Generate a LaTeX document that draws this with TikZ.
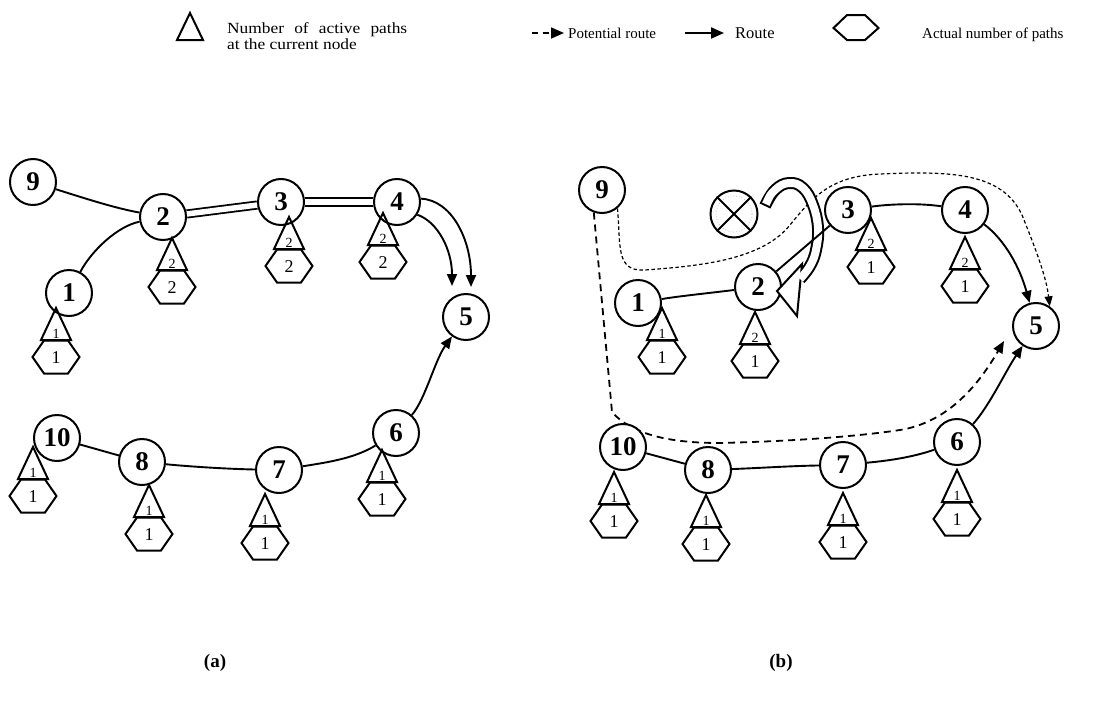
\documentclass[tikz,border=0pt]{standalone}
\usepackage{fontspec}
\setmainfont{Liberation Serif}
\newfontfamily\legendfont[FakeStretch=1.12]{Liberation Serif}
\usetikzlibrary{arrows.meta}
\pgfdeclarelayer{bg}
\pgfsetlayers{bg,main}

\tikzset{
  netnode/.style={circle, draw, line width=2pt, fill=white, minimum size=46pt,
    inner sep=0pt, font=\fontsize{27}{27}\selectfont\bfseries},
  link/.style={line width=1.9pt},
  dbl/.style={line width=1.8pt, double=white, double distance=5.5pt},
  tip/.style={-{Triangle[length=12pt,width=10pt]}},
  route/.style={link, tip},
  finedash/.style={line width=1.2pt, dash pattern=on 3.5pt off 2.5pt,
    -{Triangle[length=10pt,width=8pt]}},
  coarsedash/.style={line width=1.8pt, dash pattern=on 7pt off 5pt, tip},
  stackline/.style={line width=2pt, line join=miter},
  trilabel/.style={inner sep=0pt, font=\fontsize{14}{14}\selectfont},
  hexlabel/.style={inner sep=0pt, font=\fontsize{18}{18}\selectfont},
  legendtext/.style={inner sep=0pt, font=\fontsize{15}{15}\selectfont},
  caption/.style={inner sep=0pt, font=\fontsize{19}{19}\selectfont\bfseries},
}

% triangle (active paths) over hexagon (actual paths), apex at (#2,#3)
\newcommand\pathstack[5]{%
  \draw[stackline] (#2,#3) -- (#2-15,#3+32) -- (#2+15,#3+32) -- cycle;
  \draw[stackline] (#2-23.5,#3+49) -- (#2-12,#3+32.5) -- (#2+12,#3+32.5)
    -- (#2+23.5,#3+49) -- (#2+12,#3+65.5) -- (#2-12,#3+65.5) -- cycle;
  \node[trilabel] (#1t) at (#2,#3+26) {#4};
  \node[hexlabel] (#1h) at (#2,#3+50) {#5};
}

\begin{document}
\begin{tikzpicture}[x=1pt,y=-1pt]
\useasboundingbox (0,0) rectangle (1113,704);

% ---------------- legend ----------------
\draw[stackline] (177,40) -- (190,13) -- (203,40) -- cycle;
\node[legendtext, anchor=base west, font=\fontsize{15.5}{15.5}\legendfont] (lg1) at (227,33)
  {\makebox[180pt][s]{Number of active paths}};
\node[legendtext, anchor=base west, font=\fontsize{15.5}{15.5}\legendfont] (lg2) at (227,49)
  {at the current node};
\coordinate (ld1) at (532,33);
\coordinate (ld2) at (564,33);
\draw[line width=1.6pt, dash pattern=on 6pt off 4.5pt,
  -{Triangle[length=13pt,width=11pt]}] (ld1) -- (ld2);
\node[legendtext, anchor=base west] (lgpot) at (568,38) {Potential route};
\coordinate (lr1) at (685,33);
\coordinate (lr2) at (724,33);
\draw[line width=2pt, -{Triangle[length=13pt,width=11pt]}] (lr1) -- (lr2);
\node[legendtext, anchor=base west, font=\fontsize{16.5}{16.5}\selectfont] (lgroute) at (735,38) {Route};
\draw[stackline] (833.5,28) -- (847,15) -- (865,15) -- (878.5,28) -- (865,40) -- (847,40) -- cycle;
\node[legendtext, anchor=base west] (lgact) at (922,38) {Actual number of paths};

% ---------------- panel (a) ----------------
\node[netnode] (a9) at (33,182) {9};
\node[netnode] (a2) at (163,217) {2};
\node[netnode] (a1) at (69,293) {1};
\node[netnode] (a3) at (281,202) {3};
\node[netnode] (a4) at (397,202) {4};
\node[netnode] (a5) at (466,317) {5};
\node[netnode] (a10) at (57,438) {10};
\node[netnode] (a8) at (142,462) {8};
\node[netnode] (a7) at (279,470) {7};
\node[netnode] (a6) at (396,433) {6};

\coordinate (a5in) at (452,286);
\coordinate (a5out) at (471,287);

\begin{pgfonlayer}{bg}
  \draw[link] (a9) .. controls (90,200) and (115,208) .. (a2);
  \draw[link] (a2) .. controls (118,226) and (92,250) .. (a1);
  \draw[dbl] (a2) -- (a3);
  \draw[dbl] (a3) -- (a4);
  \draw[route] (a4.8) .. controls (452,200) and (471,240) .. (a5out);
  \draw[route] (a4.-32) .. controls (438,222) and (452,250) .. (a5in);
  \draw[route] (a6) .. controls (425,400) and (435,360) .. (a5);
  \draw[link] (a10) -- (a8);
  \draw[link] (a8) .. controls (195,467) and (230,469) .. (a7);
  \draw[link] (a7) .. controls (330,462) and (355,458) .. (a6);
\end{pgfonlayer}

\pathstack{sa1}{56}{308}{1}{1}
\pathstack{sa2}{172}{238}{2}{2}
\pathstack{sa3}{289}{217}{2}{2}
\pathstack{sa4}{383}{213}{2}{2}
\pathstack{sa10}{33}{447}{1}{1}
\pathstack{sa8}{149}{485}{1}{1}
\pathstack{sa7}{265}{494}{1}{1}
\pathstack{sa6}{382}{450}{1}{1}

\node[caption] (capa) at (215,663) {(a)};

% ---------------- panel (b) ----------------
\node[netnode] (b9) at (602,190) {9};
\node[netnode] (b1) at (638,303) {1};
\node[netnode] (b2) at (758,287) {2};
\node[netnode] (b3) at (848,210) {3};
\node[netnode] (b4) at (965,210) {4};
\node[netnode] (b5) at (1036,326) {5};
\node[netnode] (b10) at (623,447) {10};
\node[netnode] (b8) at (708,470) {8};
\node[netnode] (b7) at (843,465) {7};
\node[netnode] (b6) at (957,442) {6};

% failed link marker
\node[circle, draw, line width=2pt, fill=white, minimum size=47pt, inner sep=0pt] (bx) at (734,214) {};
\draw[gray!55, line width=0.7pt, dash pattern=on 0.8pt off 2pt] (bx.center) circle[radius=18pt];
\draw[line width=1.8pt] (bx.45) -- (bx.225);
\draw[line width=1.8pt] (bx.135) -- (bx.-45);

\coordinate (b5c) at (1004,341);

\begin{pgfonlayer}{bg}
  \draw[link] (b1) .. controls (680,296) and (710,293) .. (b2);
  \draw[link] (b3) .. controls (890,204) and (920,203) .. (b4);
  \draw[route] (b4) .. controls (1005,240) and (1020,268) .. (b5);
  \draw[route] (b6) .. controls (990,405) and (1005,372) .. (b5);
  \draw[link] (b10) -- (b8);
  \draw[link] (b8) .. controls (760,468) and (790,466) .. (b7);
  \draw[link] (b7) .. controls (885,461) and (910,458) .. (b6);
  % potential routes
  \draw[finedash] (b9.-50) .. controls (621,245) and (615,272) .. (645,270)
    .. controls (700,266) and (762,260) .. (790,225)
    .. controls (812,198) and (830,176) .. (880,174)
    .. controls (950,171) and (1002,172) .. (1022,215)
    .. controls (1034,245) and (1046,275) .. (b5.55);
  \draw[coarsedash] (b9.-110) -- (612,412)
    .. controls (635,438) and (680,443) .. (720,443)
    .. controls (800,441) and (860,436) .. (900,430)
    .. controls (950,422) and (980,382) .. (b5c);
\end{pgfonlayer}

% hollow rerouting arrow
\newcommand\reroutepath{plot[smooth, tension=0.7] coordinates {(765,206) (775,190) (789,183) (803,188) (813,205) (818,228) (816,250) (810,266) (800,279)}}
\draw[line width=12pt] \reroutepath;
\draw[line width=2pt, fill=white, line join=miter] (777,291) -- (802,264) -- (797,316) -- cycle;
\draw[white, line width=8pt, shorten <=2pt] \reroutepath;

% link 3--2 runs over the rerouting arrow
\draw[link] (b3) -- (b2);

\pathstack{sb1}{662}{308}{1}{1}
\pathstack{sb2}{755}{312}{2}{1}
\pathstack{sb3}{871}{218}{2}{1}
\pathstack{sb4}{965}{237}{2}{1}
\pathstack{sb10}{614}{472}{1}{1}
\pathstack{sb8}{706}{495}{1}{1}
\pathstack{sb7}{843}{493}{1}{1}
\pathstack{sb6}{957}{470}{1}{1}

\node[caption] (capb) at (781,663) {(b)};
\end{tikzpicture}
\end{document}
